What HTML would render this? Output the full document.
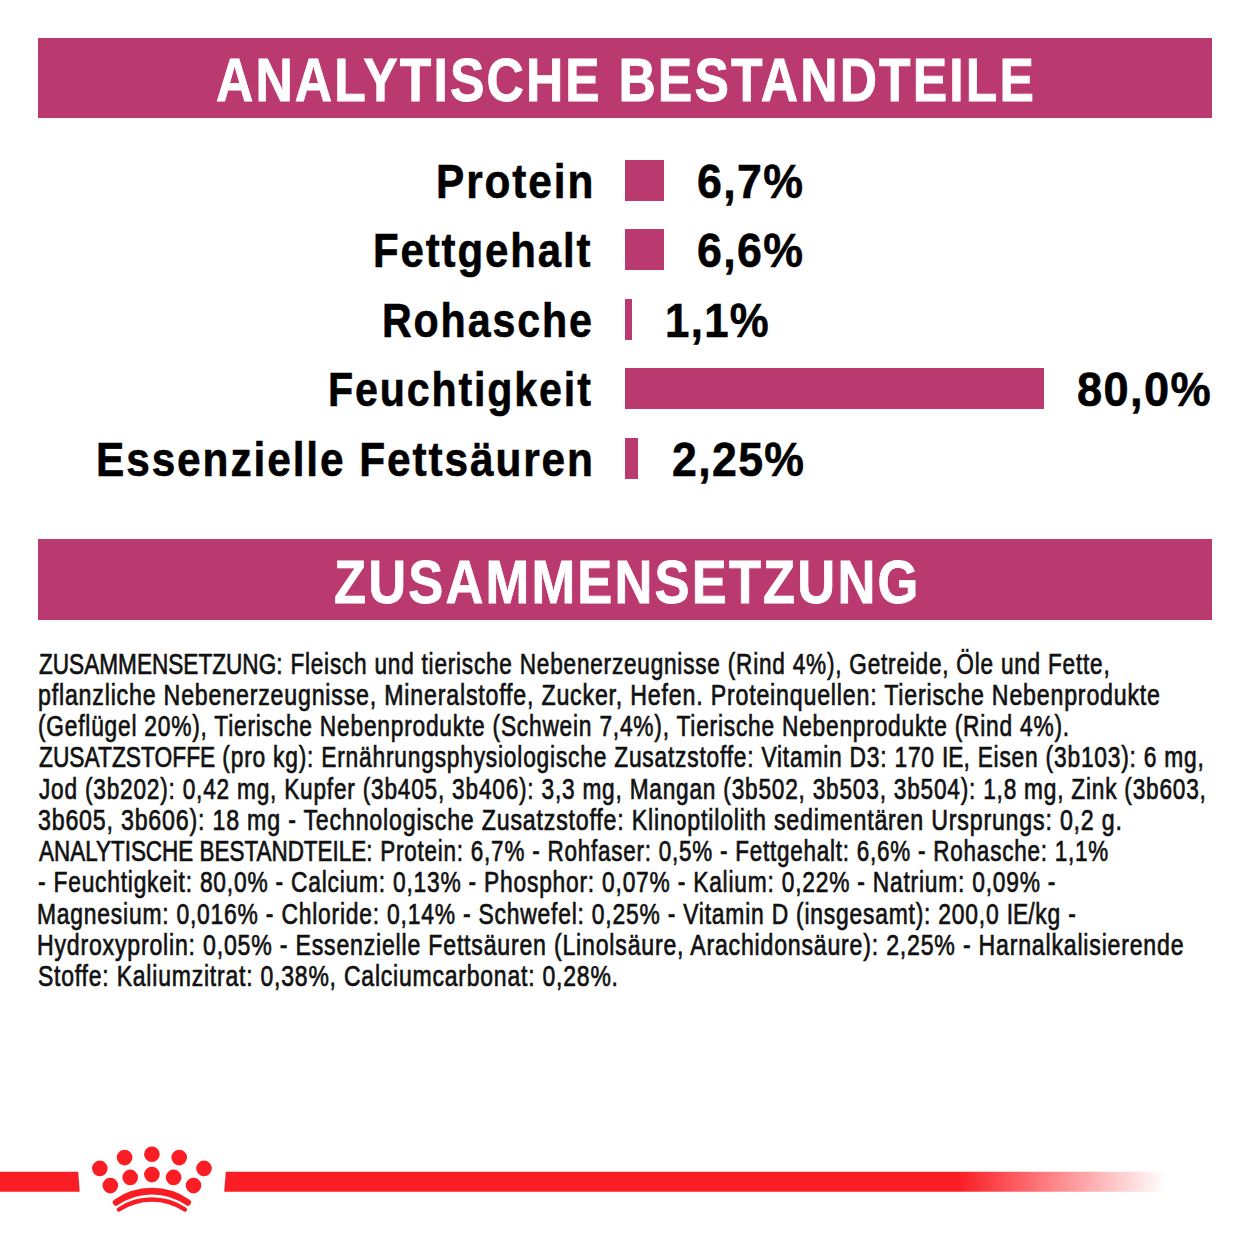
<!DOCTYPE html>
<html lang="de"><head><meta charset="utf-8"><title>Analytische Bestandteile</title>
<style>
html,body{margin:0;padding:0;background:#fff}
body{width:1250px;height:1250px;position:relative;overflow:hidden;font-family:"Liberation Sans",sans-serif}
.t{position:absolute;white-space:nowrap;line-height:1;transform-origin:0 0;margin:0}
.hb{position:absolute;left:38px;width:1174px;background:#BA3A6F}
.bar{position:absolute;background:#BA3A6F}
.b{font-weight:bold}
.body{font-size:29px;color:#111;letter-spacing:1.0px;-webkit-text-stroke:0.7px #111}
</style></head><body>

<div class="hb" style="top:38px;height:80px"></div>
<div class="hb" style="top:539px;height:81px"></div>
<div class="bar" style="left:624.5px;top:159.5px;width:39.5px;height:41.0px"></div>
<div class="bar" style="left:624.5px;top:229.3px;width:39.5px;height:41.0px"></div>
<div class="bar" style="left:625.0px;top:298.6px;width:6.6px;height:41.0px"></div>
<div class="bar" style="left:625.0px;top:368.3px;width:419.0px;height:41.0px"></div>
<div class="bar" style="left:625.0px;top:437.6px;width:13.4px;height:41.0px"></div>
<div class="t b" style="left:215.55px;top:49.70px;font-size:61px;color:#fff;letter-spacing:2.5px;-webkit-text-stroke:0.8px #fff;transform:scaleX(0.8469)">ANALYTISCHE BESTANDTEILE</div>
<div class="t b" style="left:334.14px;top:552.00px;font-size:61px;color:#fff;letter-spacing:2.5px;-webkit-text-stroke:0.8px #fff;transform:scaleX(0.8607)">ZUSAMMENSETZUNG</div>
<div class="t b" style="left:435.81px;top:156.60px;font-size:49px;color:#000;letter-spacing:2.2px;-webkit-text-stroke:0.6px #000;transform:scaleX(0.8642)">Protein</div>
<div class="t b" style="left:373.43px;top:226.20px;font-size:49px;color:#000;letter-spacing:2.2px;-webkit-text-stroke:0.6px #000;transform:scaleX(0.8566)">Fettgehalt</div>
<div class="t b" style="left:382.48px;top:295.80px;font-size:49px;color:#000;letter-spacing:2.2px;-webkit-text-stroke:0.6px #000;transform:scaleX(0.8408)">Rohasche</div>
<div class="t b" style="left:327.98px;top:365.40px;font-size:49px;color:#000;letter-spacing:2.2px;-webkit-text-stroke:0.6px #000;transform:scaleX(0.8403)">Feuchtigkeit</div>
<div class="t b" style="left:96.20px;top:435.00px;font-size:49px;color:#000;letter-spacing:2.2px;-webkit-text-stroke:0.6px #000;transform:scaleX(0.8650)">Essenzielle Fettsäuren</div>
<div class="t b" style="left:697.09px;top:156.60px;font-size:49px;color:#000;letter-spacing:1.5px;-webkit-text-stroke:0.6px #000;transform:scaleX(0.9123)">6,7%</div>
<div class="t b" style="left:697.09px;top:226.20px;font-size:49px;color:#000;letter-spacing:1.5px;-webkit-text-stroke:0.6px #000;transform:scaleX(0.9123)">6,6%</div>
<div class="t b" style="left:665.32px;top:295.80px;font-size:49px;color:#000;letter-spacing:1.5px;-webkit-text-stroke:0.6px #000;transform:scaleX(0.8929)">1,1%</div>
<div class="t b" style="left:1077.08px;top:365.40px;font-size:49px;color:#000;letter-spacing:1.5px;-webkit-text-stroke:0.6px #000;transform:scaleX(0.9231)">80,0%</div>
<div class="t b" style="left:671.79px;top:435.00px;font-size:49px;color:#000;letter-spacing:1.5px;-webkit-text-stroke:0.6px #000;transform:scaleX(0.9112)">2,25%</div>
<div class="t body" style="left:38.60px;top:649.80px;transform:scaleX(0.7792)"><span style="letter-spacing:0.0px">ZUSAMMENSETZUNG</span>: Fleisch und tierische Nebenerzeugnisse (Rind 4%), Getreide, Öle und Fette,</div>
<div class="t body" style="left:37.80px;top:681.02px;transform:scaleX(0.7996)">pflanzliche Nebenerzeugnisse, Mineralstoffe, Zucker, Hefen. Proteinquellen: Tierische Nebenprodukte</div>
<div class="t body" style="left:37.82px;top:712.24px;transform:scaleX(0.7837)">(Geflügel 20%), Tierische Nebenprodukte (Schwein 7,4%), Tierische Nebenprodukte (Rind 4%).</div>
<div class="t body" style="left:38.60px;top:743.46px;transform:scaleX(0.7850)"><span style="letter-spacing:0.0px">ZUSATZSTOFFE</span> (pro kg): Ernährungsphysiologische Zusatzstoffe: Vitamin D3: 170 <span style="letter-spacing:0.0px">IE</span>, Eisen (3b103): 6 mg,</div>
<div class="t body" style="left:38.60px;top:774.68px;transform:scaleX(0.7814)">Jod (3b202): 0,42 mg, Kupfer (3b405, 3b406): 3,3 mg, Mangan (3b502, 3b503, 3b504): 1,8 mg, Zink (3b603,</div>
<div class="t body" style="left:37.80px;top:805.90px;transform:scaleX(0.7996)">3b605, 3b606): 18 mg - Technologische Zusatzstoffe: Klinoptilolith sedimentären Ursprungs: 0,2 g.</div>
<div class="t body" style="left:38.60px;top:837.12px;transform:scaleX(0.7741)"><span style="letter-spacing:0.0px">ANALYTISCHE BESTANDTEILE</span>: Protein: 6,7% - Rohfaser: 0,5% - Fettgehalt: 6,6% - Rohasche: 1,1%</div>
<div class="t body" style="left:37.81px;top:868.34px;transform:scaleX(0.7853)">- Feuchtigkeit: 80,0% - Calcium: 0,13% - Phosphor: 0,07% - Kalium: 0,22% - Natrium: 0,09% -</div>
<div class="t body" style="left:37.02px;top:899.56px;transform:scaleX(0.7880)">Magnesium: 0,016% - Chloride: 0,14% - Schwefel: 0,25% - Vitamin D (insgesamt): 200,0 <span style="letter-spacing:0.0px">IE</span>/kg -</div>
<div class="t body" style="left:37.01px;top:930.78px;transform:scaleX(0.7968)">Hydroxyprolin: 0,05% - Essenzielle Fettsäuren (Linolsäure, Arachidonsäure): 2,25% - Harnalkalisierende</div>
<div class="t body" style="left:37.81px;top:962.00px;transform:scaleX(0.7920)">Stoffe: Kaliumzitrat: 0,38%, Calciumcarbonat: 0,28%.</div>
<svg style="position:absolute;left:0;top:0" width="1250" height="1250" viewBox="0 0 1250 1250">
<defs><linearGradient id="fade" x1="224" y1="0" x2="1166" y2="0" gradientUnits="userSpaceOnUse"><stop offset="0" stop-color="#FA1E24"/><stop offset="0.78" stop-color="#FA1E24"/><stop offset="1" stop-color="#FA1E24" stop-opacity="0"/></linearGradient></defs>
<polygon points="0,1171.8 78.2,1171.8 79.7,1191.7 0,1191.7" fill="#FA1E24"/>
<polygon points="225.8,1171.8 1166,1171.8 1166,1191.7 224.2,1191.7" fill="url(#fade)"/>
<circle cx="99.8" cy="1168.4" r="7.8" fill="#FA1E24"/>
<circle cx="124.6" cy="1157.6" r="7.8" fill="#FA1E24"/>
<circle cx="151.9" cy="1154.2" r="7.8" fill="#FA1E24"/>
<circle cx="179.2" cy="1157.6" r="7.8" fill="#FA1E24"/>
<circle cx="204.0" cy="1168.4" r="7.8" fill="#FA1E24"/>
<circle cx="110.3" cy="1185.6" r="7.8" fill="#FA1E24"/>
<circle cx="130.2" cy="1177.4" r="7.8" fill="#FA1E24"/>
<circle cx="151.9" cy="1174.6" r="7.8" fill="#FA1E24"/>
<circle cx="173.6" cy="1177.4" r="7.8" fill="#FA1E24"/>
<circle cx="193.5" cy="1185.6" r="7.8" fill="#FA1E24"/>
<path d="M116.10 1202.40 A62.36 62.36 0 0 1 187.70 1202.40" fill="none" stroke="#FA1E24" stroke-width="6.60" stroke-linecap="round"/>
<path d="M118.90 1209.50 A59.45 59.45 0 0 1 184.90 1209.50" fill="none" stroke="#FA1E24" stroke-width="4.50" stroke-linecap="round"/>
</svg>
</body></html>
